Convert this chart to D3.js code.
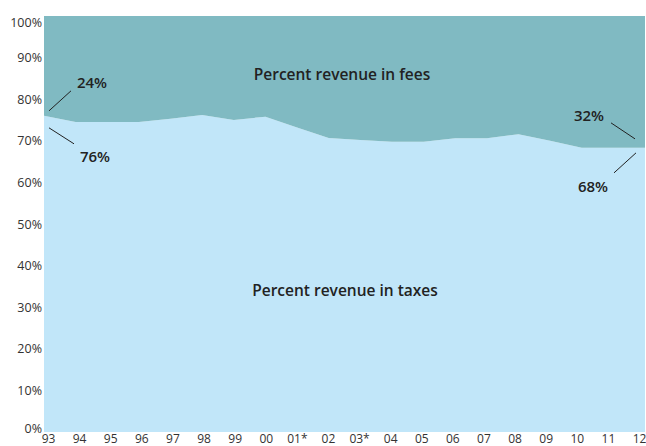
<!DOCTYPE html>
<html>
<head>
<meta charset="utf-8">
<script src="https://cdn.jsdelivr.net/npm/d3@7"></script>
<style>
  body { margin: 0; background: #fff; }
  svg text { font-family: "Open Sans", "Noto Sans", sans-serif; }
</style>
</head>
<body>
<div id="chart"></div>
<script>
// year labels along the bottom
const years = ["93", "94", "95", "96", "97", "98", "99", "00", "01*", "02",
  "03*", "04", "05", "06", "07", "08", "09", "10", "11", "12"];

// share of revenue (percent)
const taxes = [76.0, 74.5, 74.5, 74.5, 75.3, 76.2, 75.0, 75.8, 73.2, 70.7,
  70.2, 69.8, 69.8, 70.6, 70.6, 71.6, 70.0, 68.3, 68.3, 68.3];
const fees = [24.0, 25.5, 25.5, 25.5, 24.7, 23.8, 25.0, 24.2, 26.8, 29.3,
  29.8, 30.2, 30.2, 29.4, 29.4, 28.4, 30.0, 31.7, 31.7, 31.7];

const yTicks = [0, 10, 20, 30, 40, 50, 60, 70, 80, 90, 100];

const W = 646, H = 446;
const margin = { top: 16, right: 1, bottom: 14, left: 44 };

const svg = d3.select("#chart").append("svg")
  .attr("width", W)
  .attr("height", H);

// area scale spans the whole plot, labels sit a little inside it
const x = d3.scalePoint().domain(years).range([margin.left, W - margin.right]);
const xLabel = d3.scalePoint().domain(years).range([48, 639]);
const y = d3.scaleLinear().domain([0, 100]).range([H - margin.bottom, margin.top]);

// stack taxes (bottom) and fees (top)
const rows = years.map((yr, i) => ({ year: yr, taxes: taxes[i], fees: fees[i] }));
const stacked = d3.stack().keys(["taxes", "fees"])(rows);
const colors = { taxes: "#c1e6f9", fees: "#80bac2" };

const area = d3.area()
  .x(d => x(d.data.year))
  .y0(d => y(d[0]))
  .y1(d => y(d[1]));

svg.selectAll("path.layer")
  .data(stacked)
  .join("path")
  .attr("class", "layer")
  .attr("fill", d => colors[d.key])
  .attr("d", area);

// y axis, labels only
const yAxis = svg.append("g")
  .attr("transform", `translate(${margin.left - 2},0)`)
  .call(d3.axisLeft(y).tickValues(yTicks).tickSize(0).tickPadding(0).tickFormat(d => d + "%"));
yAxis.select(".domain").remove();
yAxis.selectAll("text")
  .attr("fill", "#333")
  .style("font-size", "12.5px")
  .attr("dy", d => d === 100 ? "0.8em" : d === 0 ? "0" : "0.32em");

// x axis labels
const xAxis = svg.append("g")
  .attr("transform", `translate(0,${H - margin.bottom})`)
  .call(d3.axisBottom(xLabel).tickSize(0).tickPadding(0));
xAxis.select(".domain").remove();
xAxis.selectAll("text")
  .attr("fill", "#333")
  .style("font-size", "12px")
  .attr("dy", "10.5px");

// series labels inside the areas
svg.append("text")
  .attr("x", 342).attr("y", y(84.5))
  .attr("text-anchor", "middle")
  .attr("fill", "#222")
  .style("font-size", "15.5px").style("font-weight", 600)
  .text("Percent revenue in fees");

svg.append("text")
  .attr("x", 345).attr("y", y(32.8))
  .attr("text-anchor", "middle")
  .attr("fill", "#222")
  .style("font-size", "15.5px").style("font-weight", 600)
  .text("Percent revenue in taxes");

// callouts at both ends
const first = { x: x(years[0]), y: y(taxes[0]) };
const last = { x: x(years[years.length - 1]), y: y(taxes[taxes.length - 1]) };

const callouts = [
  { p: first, line: [5, -5, 27, -25], tx: 48, ty: -33, text: fees[0].toFixed(0) + "%" },
  { p: first, line: [5, 12, 30, 28], tx: 51, ty: 41, text: taxes[0].toFixed(0) + "%" },
  { p: last, line: [-34, -25, -10, -9], tx: -56, ty: -32, text: "32%" },
  { p: last, line: [-31, 25, -9, 5], tx: -52, ty: 39, text: "68%" }
];

callouts.forEach(c => {
  svg.append("line")
    .attr("x1", c.p.x + c.line[0]).attr("y1", c.p.y + c.line[1])
    .attr("x2", c.p.x + c.line[2]).attr("y2", c.p.y + c.line[3])
    .attr("stroke", "#222")
    .attr("stroke-width", 1);
  svg.append("text")
    .attr("x", c.p.x + c.tx).attr("y", c.p.y + c.ty)
    .attr("dy", "0.35em")
    .attr("text-anchor", "middle")
    .attr("fill", "#222")
    .style("font-size", "15px").style("font-weight", 600)
    .text(c.text);
});
</script>
</body>
</html>
